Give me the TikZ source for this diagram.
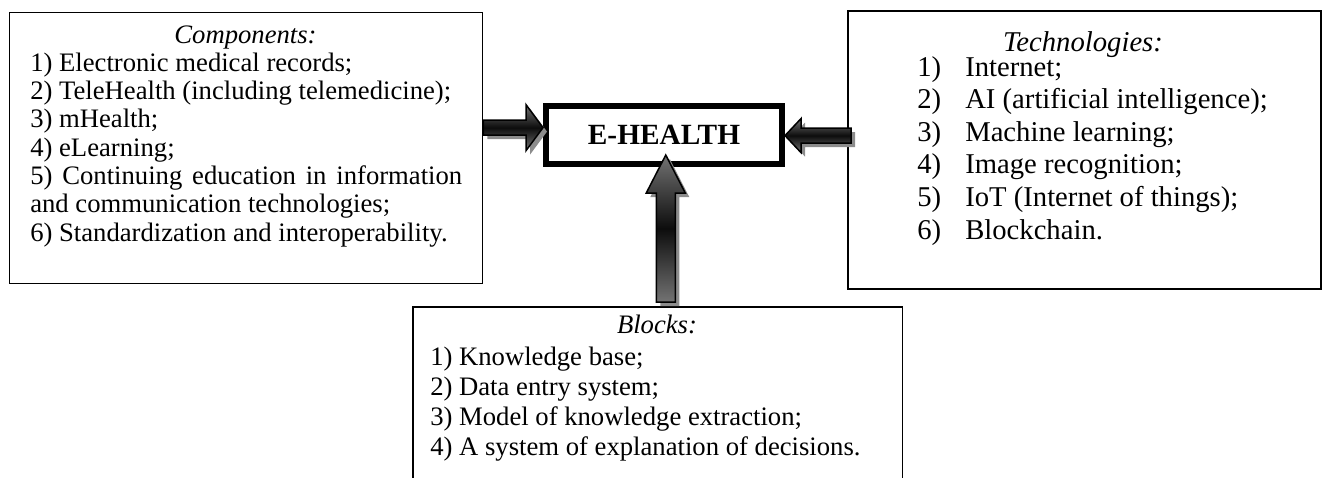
\documentclass[tikz,border=0pt]{standalone}
\usepackage{fontspec}
\setmainfont{Liberation Serif}
\usetikzlibrary{calc,shadows}
\newlength\pxu
\setlength\pxu{0.75pt}
\begin{document}
\begin{tikzpicture}[x=\pxu,y=-\pxu,
  thinbox/.style={draw=black, line width=1.3\pxu, inner sep=0pt, fill=white},
  techbox/.style={draw=black, line width=2.2\pxu, inner sep=0pt, fill=white},
  boxline/.style={draw=black, line width=1.3\pxu},
  ehbox/.style={draw=black, fill=white, line width=6\pxu, inner sep=0pt,
    minimum width=236\pxu, minimum height=58\pxu,
    font=\bfseries\fontsize{22}{26}\selectfont,
    drop shadow={shadow xshift=2.5\pxu, shadow yshift=-2.5\pxu, fill=black!40, opacity=1}},
  txtA/.style={inner sep=0pt, font=\fontsize{20}{24}\selectfont},
  txtB/.style={inner sep=0pt, font=\fontsize{21.5}{26}\selectfont},
  ttlA/.style={txtA, anchor=mid, font=\itshape\fontsize{20}{24}\selectfont},
  ttlB/.style={txtB, anchor=mid, font=\itshape\fontsize{21.5}{26}\selectfont},
  itemA/.style={txtA, anchor=mid west},
  itemB/.style={txtB, anchor=mid west},
  blockarrow/.style={draw=black, line width=1.5\pxu, line join=miter,
    top color=black!55, bottom color=black!55, middle color=black!95,
    drop shadow={shadow xshift=4\pxu, shadow yshift=-4\pxu, fill=black!45, opacity=1}}
]
\useasboundingbox (0,0) rectangle (1327,478);

% ---------- boxes ----------
\node[thinbox, anchor=north west, minimum width=473\pxu, minimum height=271\pxu] (comp) at (9,12) {};
\node[techbox, anchor=north west, minimum width=473\pxu, minimum height=278\pxu] (tech) at (847,10) {};
\node[anchor=north west, inner sep=0pt, minimum width=489\pxu, minimum height=172\pxu] (blk) at (413,307) {};
\draw[boxline] (blk.south west) -- (blk.north west) -- (blk.north east) -- (blk.south east);
\node[ehbox] (eh) at (664,135) {E-HEALTH};

% ---------- components text ----------
\node[ttlA] (compT) at (245.5,40) {Components:};
\node[itemA] (c1) at (30,68.3) {1) Electronic medical records;};
\node[itemA] (c2) at (30,96.6) {2) TeleHealth (including telemedicine);};
\node[itemA] (c3) at (30,124.9) {3) mHealth;};
\node[itemA] (c4) at (30,153.2) {4) eLearning;};
\node[itemA] (c5) at (30,181.5) {\makebox[432\pxu][s]{5) Continuing education in information}};
\node[itemA] (c5b) at (30,209.8) {and communication technologies;};
\node[itemA] (c6) at (30,238.1) {6) Standardization and interoperability.};

% ---------- technologies text ----------
\node[ttlB] (techT) at (1083,48) {Technologies:};
\foreach \i/\t [count=\k from 0] in {1/Internet;,2/AI (artificial intelligence);,3/Machine learning;,4/Image recognition;,5/IoT (Internet of things);,6/Blockchain.}{
  \node[itemB] (tn\i) at (917,73+32.6*\k) {\i)};
  \node[itemB] (tt\i) at (965,73+32.6*\k) {\t};
}

% ---------- blocks text ----------
\node[ttlA] (blkT) at (657,330) {Blocks:};
\node[itemA] (b1) at (430,362) {1) Knowledge base;};
\node[itemA] (b2) at (430,392) {2) Data entry system;};
\node[itemA] (b3) at (430,422) {3) Model of knowledge extraction;};
\node[itemA] (b4) at (430,452) {4) A system of explanation of decisions.};

% ---------- block arrows ----------
\coordinate (la0) at ([yshift=20.5\pxu]comp.east);
\coordinate (la1) at (eh.west |- la0);
\path[blockarrow] ($(la0)+(0,-7.5)$) -- ($(la1)+(-17,-7.5)$) -- ($(la1)+(-17,-23)$) -- (la1)
  -- ($(la1)+(-17,23)$) -- ($(la1)+(-17,7.5)$) -- ($(la0)+(0,7.5)$) -- cycle;

\coordinate (ra0) at ([xshift=4\pxu, yshift=14.5\pxu]tech.west);
\coordinate (ra1) at (eh.east |- ra0);
\path[blockarrow] ($(ra0)+(0,-7.5)$) -- ($(ra1)+(16,-7.5)$) -- ($(ra1)+(16,-17)$) -- (ra1)
  -- ($(ra1)+(16,17)$) -- ($(ra1)+(16,7.5)$) -- ($(ra0)+(0,7.5)$) -- cycle;

\coordinate (ua0) at ([xshift=8\pxu, yshift=5\pxu]blk.north);
\coordinate (uat) at (ua0 |- eh.south);
\coordinate (ua1) at ([yshift=12\pxu]uat);
\path[blockarrow] ($(ua0)+(-9.5,0)$) -- ($(ua1)+(-9.5,38)$) -- ($(ua1)+(-19.5,38)$) -- (ua1)
  -- ($(ua1)+(19.5,38)$) -- ($(ua1)+(9.5,38)$) -- ($(ua0)+(9.5,0)$) -- cycle;
\end{tikzpicture}
\end{document}
